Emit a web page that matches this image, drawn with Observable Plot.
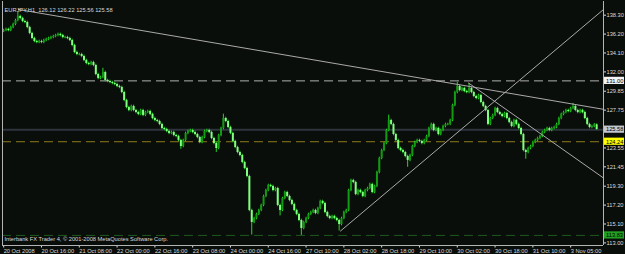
<!DOCTYPE html>
<html><head><meta charset="utf-8">
<script src="https://cdn.jsdelivr.net/npm/d3@7"></script>
<script src="https://cdn.jsdelivr.net/npm/@observablehq/plot@0.6"></script>
<style>
html,body{margin:0;padding:0;background:#0a0e0a;overflow:hidden}
#chart svg{display:block}
g[aria-label^="x-axis"] text{text-anchor:start}
</style></head><body><div id="chart"></div>
<script>
// ---- data (EURJPY H1) ----
const symbolTitle = "EURJPY,H1  126.12 126.22 125.56 125.58";
const copyright = "Interbank FX Trader 4, \u00A9 2001-2008 MetaQuotes Software Corp.";
const firstOpen = 136.50;
const closes = [
136.60,136.71,136.60,136.93,137.27,137.71,138.16,137.93,137.60,137.49,
136.93,136.27,135.71,135.38,135.27,135.38,135.27,135.49,135.60,135.71,
135.82,135.93,136.04,136.16,136.04,135.82,135.82,135.71,135.49,134.93,
134.16,133.93,133.93,133.71,133.27,132.93,132.82,133.04,132.71,131.71,
131.27,131.38,131.93,131.04,130.93,130.82,130.71,130.60,130.38,130.27,
129.71,128.82,128.04,127.71,128.16,127.71,127.49,127.27,127.71,127.16,
127.49,127.60,127.27,126.82,126.60,126.49,126.16,125.71,125.60,125.38,
125.16,125.27,124.93,124.82,124.38,123.71,124.38,125.16,125.38,125.49,
125.27,125.04,124.71,124.16,124.71,125.38,125.49,125.27,124.60,124.04,
123.49,124.93,125.71,126.82,126.49,125.82,125.16,124.27,123.60,123.04,
122.71,121.93,121.27,120.38,116.60,115.27,115.71,116.16,116.60,117.16,
118.16,118.82,119.38,119.27,118.82,119.04,117.16,116.60,117.93,118.60,
118.16,117.71,117.27,116.60,116.16,115.49,114.60,115.27,115.71,116.16,
116.38,116.60,116.27,116.82,117.60,117.38,116.38,115.93,115.71,115.93,
115.71,115.49,115.04,115.71,116.38,116.60,118.82,119.93,119.71,118.38,
118.82,118.60,118.16,118.82,119.04,119.49,118.60,119.27,120.82,122.38,
123.27,124.04,125.49,126.60,126.16,125.04,124.38,123.49,123.27,123.04,
122.60,122.16,122.71,123.71,124.16,124.38,124.27,124.04,124.38,124.82,
125.71,126.16,125.49,125.71,125.04,125.49,125.93,126.16,126.16,126.60,
128.27,129.71,130.38,129.93,130.16,129.82,129.71,130.16,129.71,129.27,
129.04,129.38,128.60,128.16,127.71,126.16,126.82,127.16,127.93,127.49,
127.27,127.04,127.38,126.82,126.38,125.93,126.60,126.16,125.71,125.04,
123.27,123.04,123.49,123.71,124.16,124.38,124.60,124.82,125.27,125.49,
125.71,125.49,125.71,125.82,126.16,126.82,127.27,127.49,127.71,127.60,
127.93,128.16,127.71,127.49,127.71,127.49,126.82,126.16,125.82,125.93,
126.12,125.58];
// visible wick extremes [bar index, price]
const highSpikes = [[6,138.60],[42,132.40],[93,127.30],[163,127.20],[192,130.85],[197,130.70],[241,128.50],[251,126.22]];
const lowSpikes  = [[75,123.40],[90,123.05],[105,113.87],[117,116.00],[126,113.83],[142,114.32],[171,121.40],[221,122.30],[251,125.56]];
const timeTickIndex = [0,16,32,48,64,80,96,112,128,144,160,176,192,208,224,240];
const timeLabels = ["20 Oct 2008","20 Oct 16:00","21 Oct 08:00","22 Oct 00:00","22 Oct 16:00","23 Oct 08:00","24 Oct 00:00","24 Oct 16:00","27 Oct 10:00","28 Oct 02:00","28 Oct 18:00","29 Oct 10:00","30 Oct 02:00","30 Oct 18:00","31 Oct 10:00","3 Nov 05:00"];
const priceTicks = [138.30,136.20,134.10,132.00,129.85,127.75,123.55,121.45,119.30,117.20,115.10,113.00];
const levelWhite = 131.00, bidPrice = 125.58, levelYellow = 124.24, levelGreen = 113.83;
// trend lines: [bar index, price] anchors (rays run to the right edge)
const trendMain  = [[6.27,138.93],[253.9,127.84]];
const trendUp    = [[142.57,114.32],[253.9,138.93]];
const trendSteep = [[196.75,130.77],[253.9,120.21]];
const xDomain = [-0.5, 253.9];
const yDomain = [112.71, 139.82];

// ---- build candles ----
const hiMap = new Map(highSpikes), loMap = new Map(lowSpikes);
const wick = 0.14;
const bars = closes.map((c, i) => {
  const o = i === 0 ? firstOpen : closes[i - 1];
  const high = hiMap.has(i) ? hiMap.get(i) : Math.max(o, c) + wick;
  const low = loMap.has(i) ? loMap.get(i) : Math.min(o, c) - wick;
  return {i, open: o, close: c, high, low};
});
const bodyEnd = d => Math.abs(d.close - d.open) < 0.06 ? d.open - 0.06 : d.close;
const xMax = xDomain[1];
const lbl = {insetLeft: 1, insetRight: -21, insetTop: -3.6, insetBottom: -3.6};

const chart = Plot.plot({
  width: 625, height: 254,
  marginLeft: 2, marginRight: 22, marginTop: 1, marginBottom: 9,
  style: {background: "#0a0e0a", color: "#dcdcdc", fontFamily: "'Liberation Sans', Arial, sans-serif", fontSize: "5.7px"},
  x: {domain: xDomain, axis: "bottom", ticks: timeTickIndex, tickFormat: d => timeLabels[timeTickIndex.indexOf(d)], tickSize: 2.5, tickPadding: 1, label: null},
  y: {domain: yDomain, axis: "right", ticks: priceTicks, tickFormat: d => d.toFixed(2), tickSize: 2, tickPadding: 1, label: null},
  marks: [
    Plot.ruleY([bidPrice], {stroke: "#2e343e", strokeWidth: 2}),
    Plot.ruleY([levelWhite], {stroke: "#b0b0b0", strokeDasharray: "9,5"}),
    Plot.ruleY([levelYellow], {stroke: "#8c7a1c", strokeDasharray: "9,5"}),
    Plot.ruleY([levelGreen], {stroke: "#1e5a1e", strokeDasharray: "9,5"}),
    Plot.ruleX(bars, {x: "i", y1: "low", y2: "high", stroke: "#22d822", strokeWidth: 1}),
    Plot.ruleX(bars.filter(d => d.close >= d.open), {x: "i", y1: "open", y2: bodyEnd, stroke: "#139a13", strokeWidth: 2}),
    Plot.ruleX(bars.filter(d => d.close < d.open), {x: "i", y1: "open", y2: bodyEnd, stroke: "#80ff80", strokeWidth: 2}),
    Plot.line(trendMain, {x: d => d[0], y: d => d[1], stroke: "#aaaaaa", strokeWidth: 1}),
    Plot.line(trendUp, {x: d => d[0], y: d => d[1], stroke: "#aaaaaa", strokeWidth: 1}),
    Plot.line(trendSteep, {x: d => d[0], y: d => d[1], stroke: "#aaaaaa", strokeWidth: 1}),
    Plot.ruleX([xDomain[0]], {stroke: "#b4b4b4"}),
    Plot.ruleX([xDomain[1]], {stroke: "#b4b4b4"}),
    Plot.ruleY([yDomain[0]], {stroke: "#b4b4b4"}),
    Plot.rect([levelWhite], {x1: xMax, x2: xMax, y1: d => d, y2: d => d, ...lbl, fill: "#f4f4f4"}),
    Plot.rect([bidPrice], {x1: xMax, x2: xMax, y1: d => d, y2: d => d, ...lbl, fill: "#c4c8d0"}),
    Plot.rect([levelYellow], {x1: xMax, x2: xMax, y1: d => d, y2: d => d, ...lbl, fill: "#ffff00"}),
    Plot.rect([levelGreen], {x1: xMax, x2: xMax, y1: d => d, y2: d => d, ...lbl, fill: "#22a022"}),
    Plot.text([levelWhite, bidPrice, levelYellow, levelGreen], {x: xMax, y: d => d, text: d => d.toFixed(2), dx: 2.5, textAnchor: "start", fill: "#000000"}),
    Plot.text([symbolTitle], {frameAnchor: "top-left", text: d => d, dx: 2, dy: 6, textAnchor: "start", fill: "#d8d8d8"}),
    Plot.text([copyright], {frameAnchor: "bottom-left", text: d => d, dx: 2, dy: -5, textAnchor: "start", fill: "#d8d8d8"})
  ]
});
document.getElementById("chart").appendChild(chart);
</script></body></html>
